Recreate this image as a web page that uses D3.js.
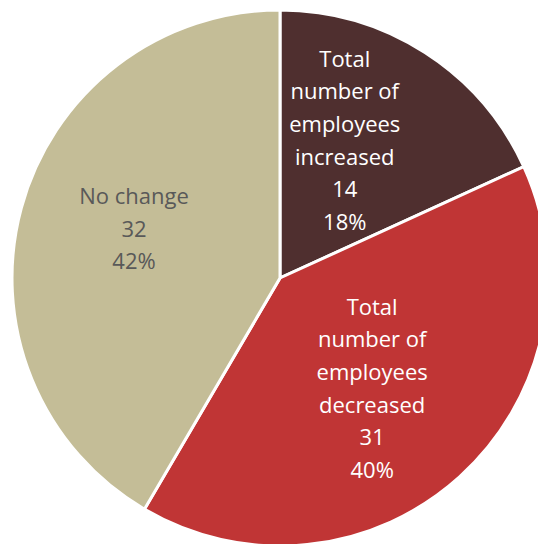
<!DOCTYPE html>
<html>
<head>
<meta charset="utf-8">
<script src="https://cdn.jsdelivr.net/npm/d3@7"></script>
<style>
  html, body { margin: 0; padding: 0; background: #ffffff; }
  svg { display: block; }
  text { font-family: "Open Sans", Lato, "Liberation Sans", sans-serif; }
</style>
</head>
<body>
<svg id="chart" width="538" height="544"></svg>
<script>
// Change in headcount
const categories = ["Total number of employees increased", "Total number of employees decreased", "No change"];
const labelLines = [
  ["Total", "number of", "employees", "increased"],
  ["Total", "number of", "employees", "decreased"],
  ["No change"]
];
const values = [14, 31, 32];
const colors = ["#4f2f2f", "#c03535", "#c4bd97"];
const labelColors = ["#ffffff", "#ffffff", "#595959"];

const W = 538, H = 544;
const cx = 280, cy = 278, R = 268;

const svg = d3.select("#chart");
const g = svg.append("g").attr("transform", `translate(${cx},${cy})`);

const data = categories.map((c, i) => ({ name: c, value: values[i], i }));
const total = d3.sum(values);

const pie = d3.pie().value(d => d.value).sort(null);
const arcs = pie(data);

const arc = d3.arc().innerRadius(0).outerRadius(R);

g.selectAll("path.slice")
  .data(arcs)
  .join("path")
  .attr("class", "slice")
  .attr("d", arc)
  .attr("fill", d => colors[d.data.i])
  .attr("stroke", "#ffffff")
  .attr("stroke-width", 3)
  .attr("stroke-linejoin", "miter");

// Label placement: radius and angular shift (radians) applied to each slice's mid-angle
const labelRadius = [152, 144, 154];
const labelShift = [-0.131, 0.04, 0.058];
const lineH = 32.6;
const fmtPct = v => Math.round(v / total * 100) + "%";

arcs.forEach(d => {
  const i = d.data.i;
  const a = (d.startAngle + d.endAngle) / 2 + labelShift[i];
  const x = Math.sin(a) * labelRadius[i];
  const y = -Math.cos(a) * labelRadius[i];
  const lines = labelLines[i].concat([String(d.data.value), fmtPct(d.data.value)]);
  const t = g.append("text")
    .attr("text-anchor", "middle")
    .attr("fill", labelColors[i])
    .attr("font-size", 22);
  const y0 = y - (lines.length - 1) * lineH / 2;
  lines.forEach((ln, k) => {
    t.append("tspan")
      .attr("x", x)
      .attr("y", y0 + k * lineH)
      .attr("dy", "0.35em")
      .text(ln);
  });
});
</script>
</body>
</html>
